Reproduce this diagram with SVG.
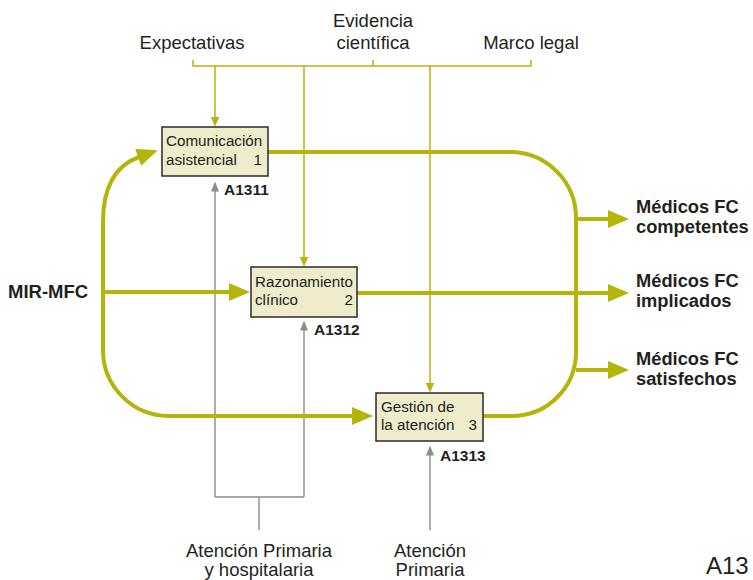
<svg xmlns="http://www.w3.org/2000/svg" width="753" height="580" viewBox="0 0 753 580">
  <style>
    text { font-family: "Liberation Sans", Arial, sans-serif; fill: #231F20; }
    .lbl { font-size: 18.5px; text-anchor: middle; }
    .out { font-size: 18.3px; font-weight: bold; }
    .box { fill: #EEECCB; stroke: #2A2A2A; stroke-width: 1.5; }
    .btxt { font-size: 15.2px; }
    .num { font-size: 15.2px; text-anchor: end; }
    .code { font-size: 15.5px; font-weight: bold; }
    .flow { fill: none; stroke: #B5B40B; stroke-width: 4; }
    .ctrl { fill: none; stroke: #B5B40B; stroke-width: 1.5; }
    .mech { fill: none; stroke: #8C8C8C; stroke-width: 1.4; }
  </style>
  <defs>
    <marker id="bigArrow" markerUnits="userSpaceOnUse" viewBox="0 0 21 18" markerWidth="21" markerHeight="18" refX="1" refY="9" orient="auto">
      <path d="M0,0 L21,9 L0,18 z" fill="#B5B40B"/>
    </marker>
    <marker id="ctrlArrow" markerUnits="userSpaceOnUse" viewBox="0 0 10 9" markerWidth="10" markerHeight="9" refX="0.5" refY="4.5" orient="auto">
      <path d="M0,0 L10,4.5 L0,9 z" fill="#B5B40B"/>
    </marker>
    <marker id="mechArrow" markerUnits="userSpaceOnUse" viewBox="0 0 10 8" markerWidth="10" markerHeight="8" refX="0.5" refY="4" orient="auto">
      <path d="M0,0 L10,4 L0,8 z" fill="#8C8C8C"/>
    </marker>
  </defs>

  <!-- connectors -->
  <g id="connectors">
    <!-- control bracket and drops -->
    <path class="ctrl" d="M193,60 V66 H531 V60 M373,66 V60"/>
    <path class="ctrl" d="M215,66 V117" marker-end="url(#ctrlArrow)"/>
    <path class="ctrl" d="M304,66 V257" marker-end="url(#ctrlArrow)"/>
    <path class="ctrl" d="M430,66 V383" marker-end="url(#ctrlArrow)"/>

    <!-- mechanisms -->
    <path class="mech" d="M215,497 V191" marker-end="url(#mechArrow)"/>
    <path class="mech" d="M304,497 V330" marker-end="url(#mechArrow)"/>
    <path class="mech" d="M215,497 H304 M259,497 V530"/>
    <path class="mech" d="M430,530 V455" marker-end="url(#mechArrow)"/>

    <!-- main flow: inputs -->
    <path class="flow" d="M103,300 V222 C103,188 114,166 139,157" marker-end="url(#bigArrow)"/>
    <path class="flow" d="M103,292 H230" marker-end="url(#bigArrow)"/>
    <path class="flow" d="M103,290 V350 A66,66 0 0 0 169,416 H353" marker-end="url(#bigArrow)"/>

    <!-- main flow: outputs -->
    <path class="flow" d="M268,152 H510 A66,66 0 0 1 576,218 V352 A64,64 0 0 1 512,416 H483"/>
    <path class="flow" d="M576,219 H609" marker-end="url(#bigArrow)"/>
    <path class="flow" d="M357,293 H609" marker-end="url(#bigArrow)"/>
    <path class="flow" d="M576,370 H609" marker-end="url(#bigArrow)"/>
  </g>

  <!-- controls -->
  <g id="ctrl-expectativas">
    <text class="lbl" x="192" y="49">Expectativas</text>
  </g>
  <g id="ctrl-evidencia">
    <text class="lbl" x="373" y="27">Evidencia</text>
    <text class="lbl" x="373" y="49">científica</text>
  </g>
  <g id="ctrl-marco">
    <text class="lbl" x="531" y="49">Marco legal</text>
  </g>

  <!-- input -->
  <g id="input-mir">
    <text x="8" y="298" style="font-size:18.5px;font-weight:bold">MIR-MFC</text>
  </g>

  <!-- activities -->
  <g id="act-1">
    <rect class="box" x="162" y="127" width="106" height="49"/>
    <text class="btxt" x="166" y="146">Comunicación</text>
    <text class="btxt" x="166" y="165">asistencial</text>
    <text class="num" x="262" y="165">1</text>
    <text class="code" x="224" y="195">A1311</text>
  </g>
  <g id="act-2">
    <rect class="box" x="251" y="267" width="106" height="50"/>
    <text class="btxt" x="255" y="287">Razonamiento</text>
    <text class="btxt" x="255" y="305">clínico</text>
    <text class="num" x="353" y="305">2</text>
    <text class="code" x="314" y="335">A1312</text>
  </g>
  <g id="act-3">
    <rect class="box" x="376" y="393" width="107" height="48"/>
    <text class="btxt" x="381" y="412">Gestión de</text>
    <text class="btxt" x="381" y="430">la atención</text>
    <text class="num" x="477" y="430">3</text>
    <text class="code" x="440" y="461">A1313</text>
  </g>

  <!-- outputs -->
  <g id="out-competentes">
    <text class="out" x="636" y="213">Médicos FC</text>
    <text class="out" x="636" y="233">competentes</text>
  </g>
  <g id="out-implicados">
    <text class="out" x="636" y="287">Médicos FC</text>
    <text class="out" x="636" y="307">implicados</text>
  </g>
  <g id="out-satisfechos">
    <text class="out" x="636" y="365">Médicos FC</text>
    <text class="out" x="636" y="385">satisfechos</text>
  </g>

  <!-- mechanisms -->
  <g id="mech-aph">
    <text class="lbl" x="259" y="557">Atención Primaria</text>
    <text class="lbl" x="259" y="576">y hospitalaria</text>
  </g>
  <g id="mech-ap">
    <text class="lbl" x="430" y="557">Atención</text>
    <text class="lbl" x="430" y="576">Primaria</text>
  </g>

  <!-- diagram number -->
  <g id="diagram-id">
    <text x="706" y="574" style="font-size:24px">A13</text>
  </g>
</svg>
